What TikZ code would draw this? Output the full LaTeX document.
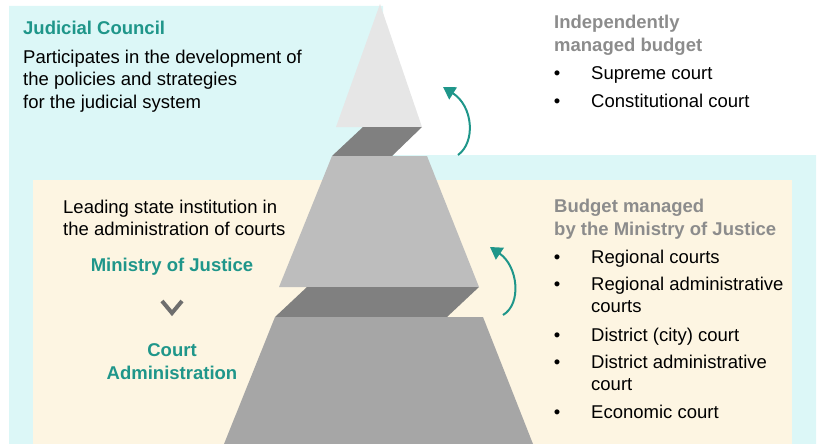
\documentclass[tikz,border=0pt]{standalone}
\usepackage{fontspec}
\setmainfont{Liberation Sans}
\usetikzlibrary{arrows.meta, positioning}
\definecolor{colorCouncil}{HTML}{DCF7F7}
\definecolor{colorMinistry}{HTML}{FDF5E2}
\definecolor{colorTeal}{HTML}{1F968A}
\definecolor{colorHead}{HTML}{8C8C8C}
\definecolor{colorTip}{HTML}{E6E6E6}
\definecolor{colorStep}{HTML}{808080}
\definecolor{colorMid}{HTML}{BDBDBD}
\definecolor{colorBase}{HTML}{A6A6A6}
\definecolor{colorChevron}{HTML}{6E6E6E}
\tikzset{
  txt/.style={font=\fontsize{18.5}{22.5}\selectfont, inner sep=0pt, anchor=base west, align=left},
  headline/.style={txt, font=\bfseries\fontsize{18.5}{22.5}\selectfont, text=colorTeal},
  budget/.style={headline, text=colorHead},
  dot/.style={txt, anchor=base},
  lift/.style={colorTeal, line width=2pt, -{Triangle[width=14pt,length=12pt]}},
}

\begin{document}
\begin{tikzpicture}[x=1pt, y=-1pt]
\useasboundingbox (0,0) rectangle (822,444);
% backgrounds
\fill[colorCouncil] (9,6) -- (383,6) -- (383,155) -- (816,155) -- (816,444) -- (9,444) -- cycle;
\fill[colorMinistry] (33,180) rectangle (792,444);
% pyramid
\fill[colorTip] (380,4) -- (422,127) -- (336,127) -- cycle;
\fill[colorStep] (363,127) -- (422,127) -- (392,156) -- (332,156) -- cycle;
\fill[colorMid] (332,156) -- (427,156) -- (479,287) -- (279,287) -- cycle;
\fill[colorStep] (307,287) -- (479,287) -- (447,317) -- (275,317) -- cycle;
\fill[colorBase] (275,317) -- (483,317) -- (533,444) -- (224,444) -- cycle;

% judicial council (multi-line nodes sit on their last baseline)
\node[headline] (council) at (23,35) {Judicial Council};
\node[txt] (councilText) at (23,108) {Participates in the development of\\the policies and strategies\\for the judicial system};

% ministry of justice
\node[txt] (leading) at (63,235.5) {Leading state institution in\\the administration of courts};
\node[headline, anchor=base] (moj) at (172,271) {Ministry of Justice};
\node[headline, anchor=base, align=center] (courtAdm) at (172,379) {Court\\Administration};
\coordinate (chev) at (172,307);
\draw[colorChevron, line width=4pt] ([shift={(-10,-6)}]chev) -- ([shift={(0,6)}]chev) -- ([shift={(10,-6)}]chev);

% budgets
\node[budget] (indep) at (554,51.5) {Independently\\managed budget};
\foreach \yy/\item in {79/Supreme court, 107/Constitutional court}{
  \node[dot] (dot\yy) at (557,\yy) {\textbullet};
  \node[txt] (item\yy) at (591,\yy) {\item};
}
\node[budget] (mojBudget) at (554,235) {Budget managed\\by the Ministry of Justice};
\foreach \yy/\ty/\item in {263/263/Regional courts, 290/312.5/{Regional administrative\\courts}, 341/341/District (city) court, 368/390.5/{District administrative\\court}, 418/418/Economic court}{
  \node[dot] (dot\yy) at (557,\yy) {\textbullet};
  \node[txt] (item\yy) at (591,\ty) {\item};
}

% arrows
\coordinate (tailTop) at (458,155);
\coordinate (headTop) at (443,87);
\draw[lift] (tailTop) .. controls (476,142) and (473,106) .. (headTop);
\coordinate (tailLow) at (503,315);
\coordinate (headLow) at (490,247);
\draw[lift] (tailLow) .. controls (522,304) and (518,266) .. (headLow);
\end{tikzpicture}
\end{document}
